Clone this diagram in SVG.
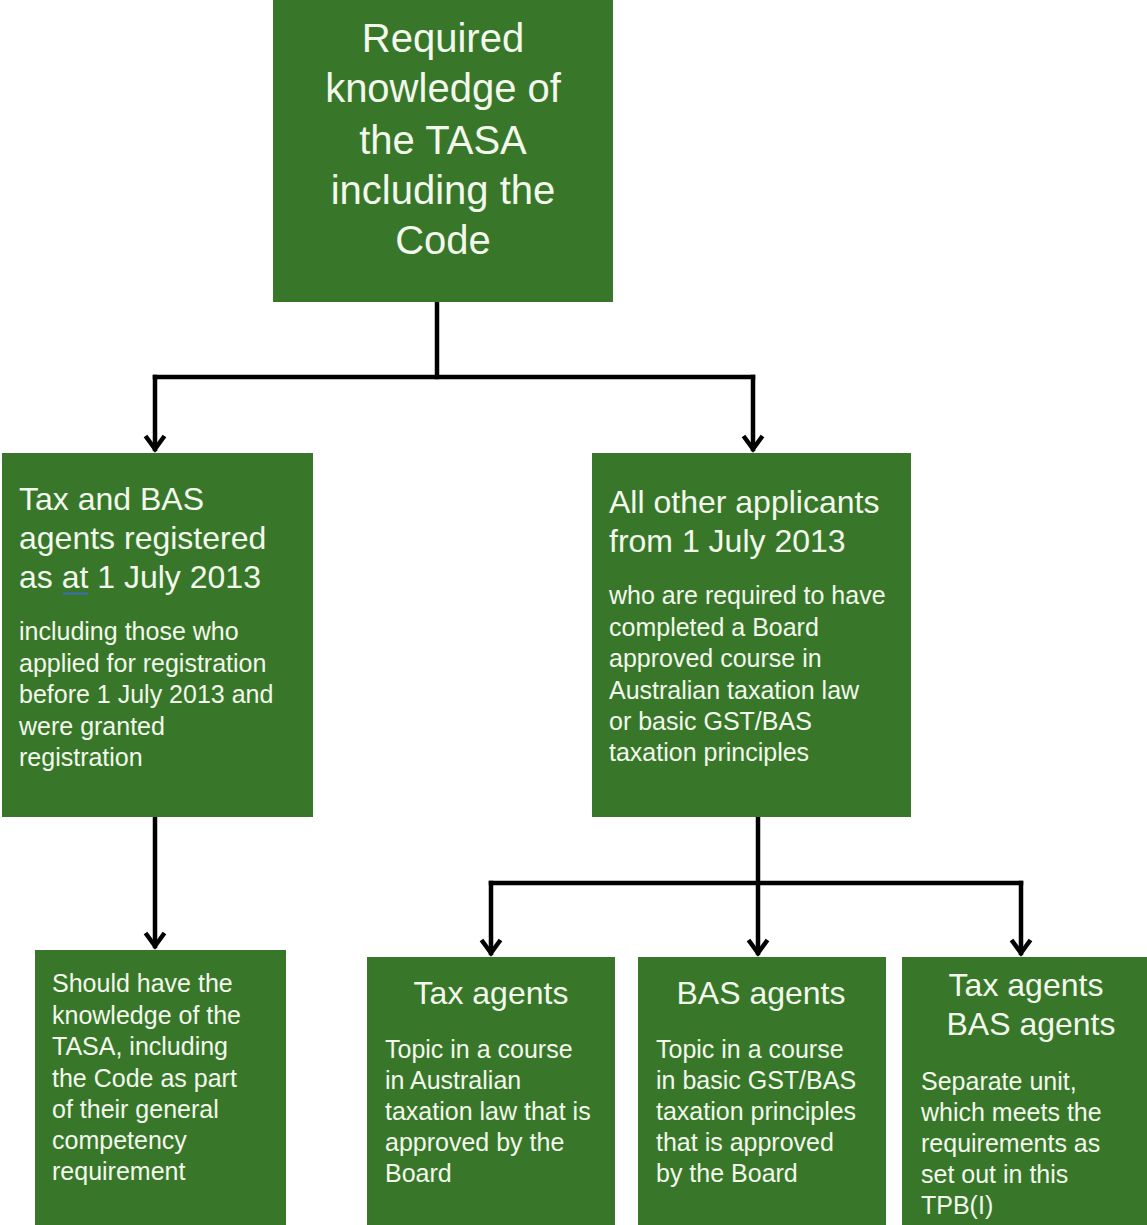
<svg xmlns="http://www.w3.org/2000/svg" width="1147" height="1225" viewBox="0 0 1147 1225">
<style>
.box{fill:#38772a;}
.t{font-family:"Liberation Sans",Arial,sans-serif;fill:#f3f8ec;}
.big{font-size:40px;}
.h{font-size:32px;}
.s{font-size:25px;}
.c{text-anchor:middle;}
.ln{fill:none;stroke:#000;stroke-width:4.5;stroke-linecap:square;}
</style>
<defs>
<marker id="arr" markerUnits="userSpaceOnUse" markerWidth="22" markerHeight="28" viewBox="-18 -14 22 28" refX="0" refY="0" orient="auto">
<path d="M -13 -9.5 L 0 0 L -13 9.5" fill="none" stroke="#000" stroke-width="4.5" stroke-linejoin="miter"/>
</marker>
</defs>
<rect width="1147" height="1225" fill="#ffffff"/>

<g id="connectors">
<line class="ln" x1="437" y1="302" x2="437" y2="377"/>
<line class="ln" x1="155" y1="377" x2="753" y2="377"/>
<path class="ln" d="M155 377 V449" marker-end="url(#arr)"/>
<path class="ln" d="M753 377 V449" marker-end="url(#arr)"/>
<path class="ln" d="M155 817 V946" marker-end="url(#arr)"/>
<line class="ln" x1="491" y1="883" x2="1021" y2="883"/>
<path class="ln" d="M758 817 V953" marker-end="url(#arr)"/>
<path class="ln" d="M491 883 V953" marker-end="url(#arr)"/>
<path class="ln" d="M1021 883 V953" marker-end="url(#arr)"/>
</g>

<g id="node-top">
<rect class="box" x="273" y="0" width="340" height="302"/>
<text class="t big c" x="443" y="52">Required</text>
<text class="t big c" x="443" y="102">knowledge of</text>
<text class="t big c" x="443" y="154">the TASA</text>
<text class="t big c" x="443" y="204">including the</text>
<text class="t big c" x="443" y="254">Code</text>
</g>

<g id="node-registered">
<rect class="box" x="2" y="453" width="311" height="364"/>
<text class="t h" x="19" y="510">Tax and BAS</text>
<text class="t h" x="19" y="549">agents registered</text>
<text class="t h" x="19" y="588">as at 1 July 2013</text>
<line x1="63" y1="593.5" x2="88" y2="593.5" stroke="#3a6fb8" stroke-width="2"/>
<text class="t s" x="19" y="640">including those who</text>
<text class="t s" x="19" y="672">applied for registration</text>
<text class="t s" x="19" y="703">before 1 July 2013 and</text>
<text class="t s" x="19" y="735">were granted</text>
<text class="t s" x="19" y="766">registration</text>
</g>

<g id="node-other">
<rect class="box" x="592" y="453" width="319" height="364"/>
<text class="t h" x="609" y="513">All other applicants</text>
<text class="t h" x="609" y="552">from 1 July 2013</text>
<text class="t s" x="609" y="604">who are required to have</text>
<text class="t s" x="609" y="636">completed a Board</text>
<text class="t s" x="609" y="667">approved course in</text>
<text class="t s" x="609" y="699">Australian taxation law</text>
<text class="t s" x="609" y="730">or basic GST/BAS</text>
<text class="t s" x="609" y="761">taxation principles</text>
</g>

<g id="node-should">
<rect class="box" x="35" y="950" width="251" height="275"/>
<text class="t s" x="52" y="992">Should have the</text>
<text class="t s" x="52" y="1024">knowledge of the</text>
<text class="t s" x="52" y="1055">TASA, including</text>
<text class="t s" x="52" y="1087">the Code as part</text>
<text class="t s" x="52" y="1118">of their general</text>
<text class="t s" x="52" y="1149">competency</text>
<text class="t s" x="52" y="1180">requirement</text>
</g>

<g id="node-tax">
<rect class="box" x="367" y="957" width="248" height="268"/>
<text class="t h c" x="491" y="1004">Tax agents</text>
<text class="t s" x="385" y="1058">Topic in a course</text>
<text class="t s" x="385" y="1089">in Australian</text>
<text class="t s" x="385" y="1120">taxation law that is</text>
<text class="t s" x="385" y="1151">approved by the</text>
<text class="t s" x="385" y="1182">Board</text>
</g>

<g id="node-bas">
<rect class="box" x="638" y="957" width="248" height="268"/>
<text class="t h c" x="761" y="1004">BAS agents</text>
<text class="t s" x="656" y="1058">Topic in a course</text>
<text class="t s" x="656" y="1089">in basic GST/BAS</text>
<text class="t s" x="656" y="1120">taxation principles</text>
<text class="t s" x="656" y="1151">that is approved</text>
<text class="t s" x="656" y="1182">by the Board</text>
</g>

<g id="node-both">
<rect class="box" x="902" y="957" width="245" height="268"/>
<text class="t h c" x="1026" y="996">Tax agents</text>
<text class="t h c" x="1031" y="1035">BAS agents</text>
<text class="t s" x="921" y="1090">Separate unit,</text>
<text class="t s" x="921" y="1121">which meets the</text>
<text class="t s" x="921" y="1152">requirements as</text>
<text class="t s" x="921" y="1183">set out in this</text>
<text class="t s" x="921" y="1214">TPB(I)</text>
</g>
</svg>
